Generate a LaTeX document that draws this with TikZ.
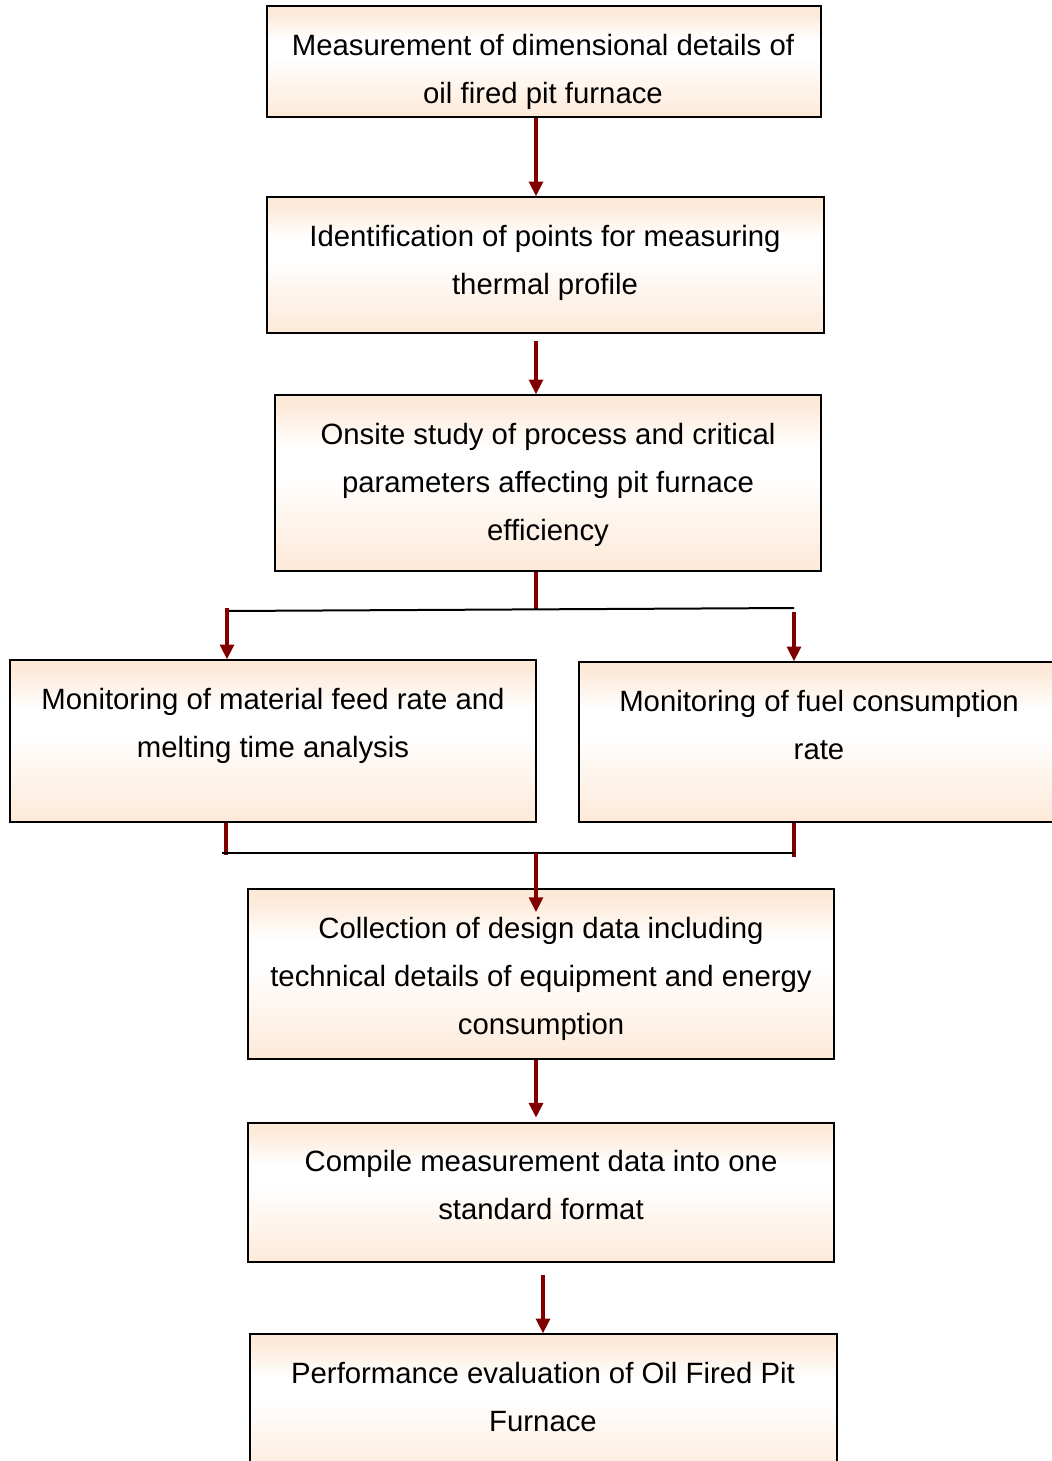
\documentclass[tikz,border=0pt]{standalone}
\usepackage{fontspec}
\setmainfont{Liberation Sans}
\usetikzlibrary{arrows.meta,calc}
\definecolor{peach}{RGB}{253,233,216}
\definecolor{arrred}{RGB}{128,0,0}
\pgfdeclareverticalshading{boxshade}{100bp}{color(0bp)=(peach); color(25bp)=(peach); color(52bp)=(white); color(60bp)=(white); color(72bp)=(peach); color(100bp)=(peach)}
\tikzset{
  box/.style={draw=black, line width=1.1pt, shading=boxshade, rectangle, inner sep=0pt},
  txt/.style={align=center, font=\fontsize{22pt}{36pt}\selectfont, inner sep=0pt},
  arr/.style={draw=arrred, line width=2.3pt, -{Triangle[width=10.5pt,length=11pt]}},
  stub/.style={draw=arrred, line width=2.3pt},
  bar/.style={draw=black, line width=1.5pt}
}
\begin{document}
\begin{tikzpicture}[x=0.75pt,y=-0.75pt]
\useasboundingbox (0,0) rectangle (1052,1461);
\fill[white] (0,0) rectangle (1052,1461);
% boxes
\node[box, minimum width=554*0.75pt, minimum height=111*0.75pt] (b1) at (544,61.5) {};
\node[box, minimum width=557*0.75pt, minimum height=136*0.75pt] (b2) at (545.5,265) {};
\node[box, minimum width=546*0.75pt, minimum height=176*0.75pt] (b3) at (548,483) {};
\node[box, minimum width=526*0.75pt, minimum height=162*0.75pt] (b4) at (273,741) {};
\node[box, minimum width=481*0.75pt, minimum height=160*0.75pt] (b5) at (819.5,742) {};
\node[box, minimum width=586*0.75pt, minimum height=170*0.75pt] (b6) at (541,974) {};
\node[box, minimum width=586*0.75pt, minimum height=139*0.75pt] (b7) at (541,1192.5) {};
\node[box, minimum width=587*0.75pt, minimum height=146*0.75pt] (b8) at (543.5,1407) {};
% texts
\node[txt] (t1) at (543,72) {Measurement of dimensional details of\\oil fired pit furnace};
\node[txt] (t2) at (545,263) {Identification of points for measuring\\thermal profile};
\node[txt] (t3) at (548,485) {Onsite study of process and critical\\parameters affecting pit furnace\\efficiency};
\node[txt] (t4) at (273,726) {Monitoring of material feed rate and\\melting time analysis};
\node[txt] (t5) at (819,725) {Monitoring of fuel consumption\\rate};
\node[txt] (t6) at (541,979) {Collection of design data including\\technical details of equipment and energy\\consumption};
\node[txt] (t7) at (541,1185) {Compile measurement data into one\\standard format};
\node[txt] (t8) at (543,1397) {Performance evaluation of Oil Fired Pit\\Furnace};
% helper coordinates
\coordinate (ax) at (536,0);
\coordinate (ax2) at (543,0);
\coordinate (j1) at (536,610);
\coordinate (jl) at (226,611);
\coordinate (jr) at (794,608);
\coordinate (la) at (227,608);
\coordinate (ra) at (794,612);
\coordinate (ls) at (226,855);
\coordinate (rs) at (794,857);
\coordinate (bl) at (222,853);
\coordinate (br) at (794,853);
\coordinate (j2) at (536,853);
\coordinate (e6) at (536,912);
% connectors
\draw[arr] (b1.south -| ax) -- (b2.north -| ax);
\draw[arr, shorten <=5.2pt] (b2.south -| ax) -- (b3.north -| ax);
\draw[stub] (b3.south -| ax) -- (j1);
\draw[bar] (jl) -- (jr);
\draw[arr] (la) -- (b4.north -| la);
\draw[arr] (ra) -- (b5.north -| ra);
\draw[stub] (b4.south -| ls) -- (ls);
\draw[stub] (b5.south -| rs) -- (rs);
\draw[bar] (bl) -- (br);
\draw[arr] (j2) -- (e6);
\draw[arr, shorten >=3.5pt] (b6.south -| ax) -- (b7.north -| ax);
\draw[arr, shorten <=9pt] (b7.south -| ax2) -- (b8.north -| ax2);
\end{tikzpicture}
\end{document}
